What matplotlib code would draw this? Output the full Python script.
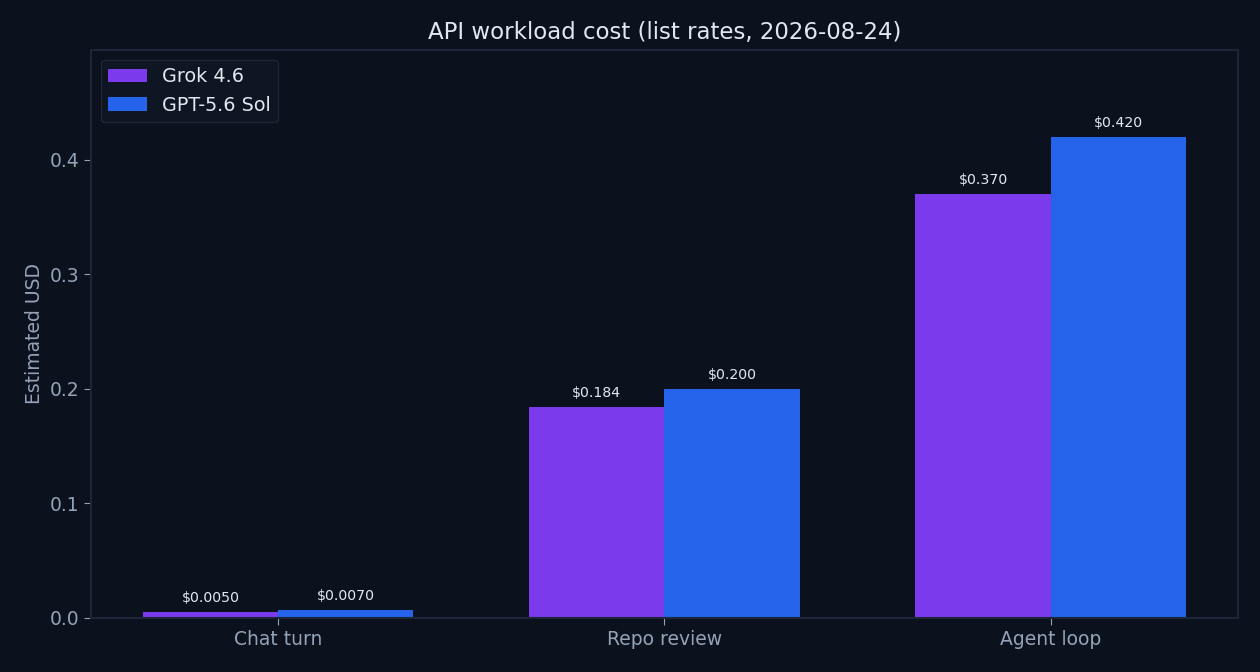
import matplotlib
matplotlib.use("Agg")
import matplotlib.pyplot as plt
import numpy as np

categories = ["Chat turn", "Repo review", "Agent loop"]
grok = [0.0050, 0.184, 0.370]
gpt = [0.0070, 0.200, 0.420]
series_names = ["Grok 4.6", "GPT-5.6 Sol"]

BG = "#0b111d"
SPINE = "#1c2636"
TICK = "#94a3b8"
TEXT = "#e2e8f0"
C1 = "#7c3aed"
C2 = "#2563eb"

fig = plt.figure(figsize=(12.6, 6.72), dpi=100, facecolor=BG)
ax = fig.add_axes([0.0722, 0.0804, 0.9103, 0.8452])
ax.set_facecolor(BG)

x = np.arange(len(categories))
w = 0.35
b1 = ax.bar(x - w / 2, grok, w, color=C1, label=series_names[0])
b2 = ax.bar(x + w / 2, gpt, w, color=C2, label=series_names[1])

def fmt(v):
    return f"${v:.4f}" if v < 0.01 else f"${v:.3f}"

for bars, vals in ((b1, grok), (b2, gpt)):
    ax.bar_label(bars, labels=[fmt(v) for v in vals], padding=5, color=TEXT, fontsize=10.2)

ax.set_ylim(0, max(gpt + grok) * 1.18)
ax.set_xticks(x)
ax.set_xticklabels(categories)
ax.set_yticks([0, 0.1, 0.2, 0.3, 0.4])
ax.tick_params(colors=TICK, labelsize=13.5, length=5)
for s in ax.spines.values():
    s.set_color(SPINE)
    s.set_linewidth(1.5)
ax.set_ylabel("Estimated USD", color=TICK, fontsize=13.5)
ax.set_title("API workload cost (list rates, 2026-08-24)", color=TEXT, fontsize=16.5, pad=8)

leg = ax.legend(loc="upper left", fontsize=13.8, facecolor="#0f1623", edgecolor=SPINE, labelcolor=TEXT)
leg.get_frame().set_alpha(1)

fig.savefig("out.png", dpi=100, facecolor=BG)
